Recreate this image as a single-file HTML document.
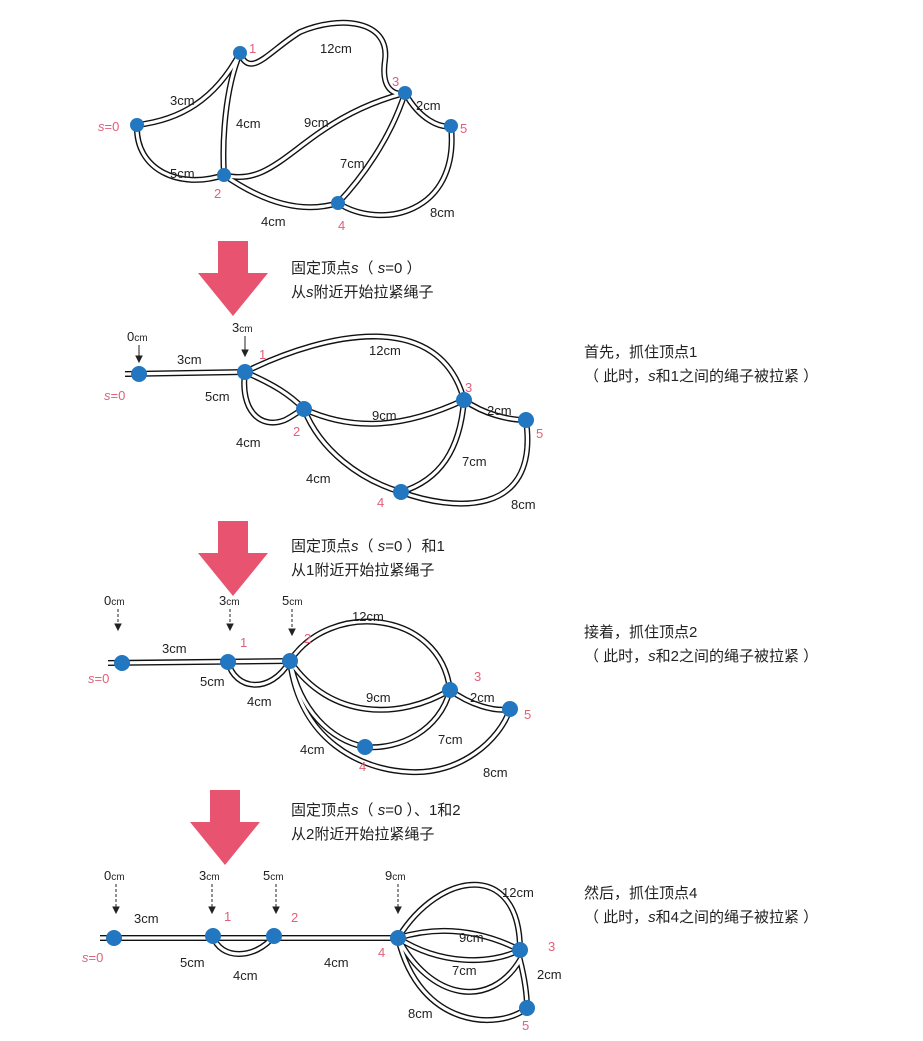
<!DOCTYPE html>
<html><head><meta charset="utf-8"><style>
body{margin:0;background:#fff;}
svg{display:block;font-family:"Liberation Sans","Noto Sans CJK SC",sans-serif;}
.l{font-size:13px;fill:#222;}
.r{font-size:13px;fill:#e0607a;}
.t{font-size:15px;fill:#222;}
.n{fill:#2277c0;}
</style></head><body>
<svg width="923" height="1041" viewBox="0 0 923 1041" xmlns="http://www.w3.org/2000/svg">
<defs>
<g id="r1" fill="none">
<path d="M137,125 C180,120 215,100 240,53"/>
<path d="M240,53 C250,80 270,50 300,32 C340,15 390,20 385,60 C380,95 400,95 405,93"/>
<path d="M137,125 C135,170 180,190 224,175"/>
<path d="M240,53 C225,90 222,140 224,175"/>
<path d="M224,175 C280,190 300,120 405,93"/>
<path d="M224,175 C260,200 300,215 338,203"/>
<path d="M405,93 C390,140 360,180 338,203"/>
<path d="M405,93 C420,120 440,128 451,126"/>
<path d="M338,203 C380,230 460,215 451,126"/>
</g>
<g id="r2" fill="none">
<path d="M125,374 L245,372"/>
<path d="M245,372 C330,330 440,310 464,400"/>
<path d="M245,372 C240,410 260,430 285,420 C295,415 300,410 304,409"/>
<path d="M245,372 C275,385 290,395 304,409"/>
<path d="M304,409 C350,430 400,430 464,400"/>
<path d="M304,409 C320,450 360,480 401,492"/>
<path d="M464,400 C460,450 440,480 401,492"/>
<path d="M464,400 C485,415 510,420 526,420"/>
<path d="M401,492 C450,510 540,520 526,420"/>
</g>
<g id="r3" fill="none">
<path d="M108,663 L290,661"/>
<path d="M228,662 C235,690 270,695 290,661"/>
<path d="M290,661 C330,600 440,610 450,690"/>
<path d="M290,661 C330,720 400,720 450,690"/>
<path d="M290,661 C300,710 330,740 365,747"/>
<path d="M290,661 C300,740 360,770 410,772 C460,775 500,740 510,709"/>
<path d="M450,690 C440,730 400,750 365,747"/>
<path d="M450,690 C470,705 495,712 510,709"/>
</g>
<g id="r4" fill="none">
<path d="M100,938 L398,938"/>
<path d="M213,936 C220,960 255,960 274,936"/>
<path d="M398,938 C440,870 520,860 520,950"/>
<path d="M398,938 C440,925 480,930 520,950"/>
<path d="M398,938 C440,965 490,965 520,950"/>
<path d="M398,938 C430,1000 490,1010 520,960 C525,980 527,995 527,1008"/>
<path d="M398,938 C420,1030 500,1030 527,1008"/>
</g>
<polygon id="arr" points="-15,0 15,0 15,32 35,32 0,75 -35,32 -15,32" fill="#e8546f"/>
</defs>
<use href="#r1" stroke="#111" stroke-width="6"/><use href="#r1" stroke="#fff" stroke-width="3.2"/>
<use href="#r2" stroke="#111" stroke-width="6"/><use href="#r2" stroke="#fff" stroke-width="3.2"/>
<use href="#r3" stroke="#111" stroke-width="6"/><use href="#r3" stroke="#fff" stroke-width="3.2"/>
<use href="#r4" stroke="#111" stroke-width="6"/><use href="#r4" stroke="#fff" stroke-width="3.2"/>

<g class="n">
<circle cx="137" cy="125" r="7"/><circle cx="240" cy="53" r="7"/><circle cx="405" cy="93" r="7"/><circle cx="451" cy="126" r="7"/><circle cx="224" cy="175" r="7"/><circle cx="338" cy="203" r="7"/>
<circle cx="139" cy="374" r="8"/><circle cx="245" cy="372" r="8"/><circle cx="304" cy="409" r="8"/><circle cx="464" cy="400" r="8"/><circle cx="526" cy="420" r="8"/><circle cx="401" cy="492" r="8"/>
<circle cx="122" cy="663" r="8"/><circle cx="228" cy="662" r="8"/><circle cx="290" cy="661" r="8"/><circle cx="450" cy="690" r="8"/><circle cx="510" cy="709" r="8"/><circle cx="365" cy="747" r="8"/>
<circle cx="114" cy="938" r="8"/><circle cx="213" cy="936" r="8"/><circle cx="274" cy="936" r="8"/><circle cx="398" cy="938" r="8"/><circle cx="520" cy="950" r="8"/><circle cx="527" cy="1008" r="8"/>
</g>

<g class="l">
<text x="170" y="105">3cm</text><text x="320" y="53">12cm</text><text x="416" y="110">2cm</text><text x="236" y="128">4cm</text><text x="304" y="127">9cm</text><text x="340" y="168">7cm</text><text x="170" y="178">5cm</text><text x="261" y="226">4cm</text><text x="430" y="217">8cm</text>
<text x="127" y="341">0<tspan font-size="10">cm</tspan></text><text x="232" y="332">3<tspan font-size="10">cm</tspan></text>
<text x="177" y="364">3cm</text><text x="369" y="355">12cm</text><text x="205" y="401">5cm</text><text x="372" y="420">9cm</text><text x="487" y="415">2cm</text><text x="236" y="447">4cm</text><text x="462" y="466">7cm</text><text x="306" y="483">4cm</text><text x="511" y="509">8cm</text>
<text x="104" y="605">0<tspan font-size="10">cm</tspan></text><text x="219" y="605">3<tspan font-size="10">cm</tspan></text><text x="282" y="605">5<tspan font-size="10">cm</tspan></text>
<text x="352" y="621">12cm</text><text x="162" y="653">3cm</text><text x="200" y="686">5cm</text><text x="247" y="706">4cm</text><text x="366" y="702">9cm</text><text x="470" y="702">2cm</text><text x="438" y="744">7cm</text><text x="300" y="754">4cm</text><text x="483" y="777">8cm</text>
<text x="104" y="880">0<tspan font-size="10">cm</tspan></text><text x="199" y="880">3<tspan font-size="10">cm</tspan></text><text x="263" y="880">5<tspan font-size="10">cm</tspan></text><text x="385" y="880">9<tspan font-size="10">cm</tspan></text>
<text x="502" y="897">12cm</text><text x="134" y="923">3cm</text><text x="180" y="967">5cm</text><text x="233" y="980">4cm</text><text x="324" y="967">4cm</text><text x="459" y="942">9cm</text><text x="452" y="975">7cm</text><text x="537" y="979">2cm</text><text x="408" y="1018">8cm</text>
</g>
<g stroke="#222" stroke-width="1" fill="#222">
<path d="M139,345 V358" /><path d="M136,356 L139,362 L142,356Z"/>
<path d="M245,336 V352"/><path d="M242,350 L245,356 L248,350Z"/>
<path d="M118,609 V625" stroke-dasharray="3,2"/><path d="M115,624 L118,630 L121,624Z"/>
<path d="M230,609 V625" stroke-dasharray="3,2"/><path d="M227,624 L230,630 L233,624Z"/>
<path d="M292,609 V630" stroke-dasharray="3,2"/><path d="M289,629 L292,635 L295,629Z"/>
<path d="M116,884 V908" stroke-dasharray="3,2"/><path d="M113,907 L116,913 L119,907Z"/>
<path d="M212,884 V908" stroke-dasharray="3,2"/><path d="M209,907 L212,913 L215,907Z"/>
<path d="M276,884 V908" stroke-dasharray="3,2"/><path d="M273,907 L276,913 L279,907Z"/>
<path d="M398,884 V908" stroke-dasharray="3,2"/><path d="M395,907 L398,913 L401,907Z"/>
</g>
<g class="r">
<text x="249" y="53">1</text><text x="392" y="86">3</text><text x="460" y="133">5</text><text x="98" y="131" font-style="italic">s<tspan font-style="normal">=0</tspan></text><text x="214" y="198">2</text><text x="338" y="230">4</text>
<text x="259" y="359">1</text><text x="465" y="392">3</text><text x="536" y="438">5</text><text x="104" y="400" font-style="italic">s<tspan font-style="normal">=0</tspan></text><text x="293" y="436">2</text><text x="377" y="507">4</text>
<text x="240" y="647">1</text><text x="304" y="643">2</text><text x="474" y="681">3</text><text x="524" y="719">5</text><text x="88" y="683" font-style="italic">s<tspan font-style="normal">=0</tspan></text><text x="359" y="771">4</text>
<text x="224" y="921">1</text><text x="291" y="922">2</text><text x="548" y="951">3</text><text x="378" y="957">4</text><text x="522" y="1030">5</text><text x="82" y="962" font-style="italic">s<tspan font-style="normal">=0</tspan></text>
</g>

<use href="#arr" x="233" y="241"/>
<use href="#arr" x="233" y="521"/>
<use href="#arr" x="225" y="790"/>

<g class="t">
<text x="291" y="273">固定顶点<tspan font-style="italic">s</tspan>（ <tspan font-style="italic">s</tspan>=0 ）</text>
<text x="291" y="297">从<tspan font-style="italic">s</tspan>附近开始拉紧绳子</text>
<text x="291" y="551">固定顶点<tspan font-style="italic">s</tspan>（ <tspan font-style="italic">s</tspan>=0 ）和1</text>
<text x="291" y="575">从1附近开始拉紧绳子</text>
<text x="291" y="815">固定顶点<tspan font-style="italic">s</tspan>（ <tspan font-style="italic">s</tspan>=0 ）、1和2</text>
<text x="291" y="839">从2附近开始拉紧绳子</text>
<text x="584" y="357">首先，抓住顶点1</text>
<text x="584" y="381">（ 此时，<tspan font-style="italic">s</tspan>和1之间的绳子被拉紧 ）</text>
<text x="584" y="637">接着，抓住顶点2</text>
<text x="584" y="661">（ 此时，<tspan font-style="italic">s</tspan>和2之间的绳子被拉紧 ）</text>
<text x="584" y="898">然后，抓住顶点4</text>
<text x="584" y="922">（ 此时，<tspan font-style="italic">s</tspan>和4之间的绳子被拉紧 ）</text>
</g>
</svg>
</body></html>
